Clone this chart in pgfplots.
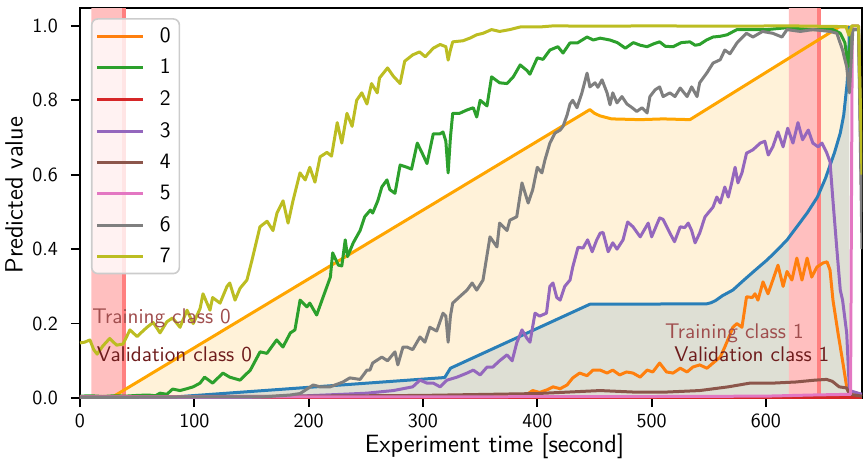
\documentclass[border=0pt]{standalone}
\usepackage{pgfplots}
\pgfplotsset{compat=1.18}
\definecolor{c0}{HTML}{FF7F0E}
\definecolor{c1}{HTML}{2CA02C}
\definecolor{c2}{HTML}{D62728}
\definecolor{c3}{HTML}{9467BD}
\definecolor{c4}{HTML}{8C564B}
\definecolor{c5}{HTML}{E377C2}
\definecolor{c6}{HTML}{7F7F7F}
\definecolor{c7}{HTML}{BCBD22}
\definecolor{ramp}{HTML}{FFA500}
\definecolor{bl}{HTML}{2A7FB8}
\definecolor{blt}{HTML}{1F77B4}
\definecolor{span}{HTML}{FFBFBF}
\definecolor{vl}{HTML}{FF8080}
\definecolor{trc}{RGB}{160,78,78}
\definecolor{vac}{RGB}{110,28,28}
\begin{document}
\begin{tikzpicture}
\useasboundingbox (-40pt,-32pt) rectangle (391.5pt,199pt);
\begin{axis}[
  scale only axis, width=391pt, height=195pt,
  xmin=0, xmax=684, ymin=0, ymax=1.048,
  axis line style={line width=0.9pt},
  tick align=outside, xtick pos=bottom, ytick pos=left,
  major tick length=4.5pt, tick style={black, line width=0.9pt},
  xtick={0,100,200,300,400,500,600},
  ytick={0,0.2,0.4,0.6,0.8,1.0},
  yticklabel style={/pgf/number format/.cd,fixed,fixed zerofill,precision=1,/tikz/.cd,xshift=-3pt},
  /pgf/number format/assume math mode=true,
  tick label style={font=\sffamily\fontsize{10}{12}\selectfont},
  xlabel={Experiment time [second]}, ylabel={Predicted value},
  label style={font=\sffamily\fontsize{12.5}{15}\selectfont},
  ylabel style={at={(axis description cs:-0.0844,0.52)}, anchor=center},
  xlabel style={at={(axis description cs:0.53,0)}, yshift=-24pt, anchor=center},
  legend style={at={(axis description cs:0.014,0.974)}, anchor=north west,
    draw=black!20, line width=0.8pt, rounded corners=3pt, fill=white, fill opacity=0.8, text opacity=1,
    font=\sffamily\fontsize{11}{13}\selectfont, inner xsep=2.1pt, inner ysep=1.9pt,
    nodes={inner sep=2.2pt}, row sep=2.5pt},
  legend cell align=left,
  legend image code/.code={\draw[#1, line width=1.5pt] (0pt,0pt) -- (23pt,0pt); \path (28.3pt,0pt);},
  every axis plot/.append style={line width=1.5pt, line join=round},
]
% fills
\addplot[draw=none, fill=ramp, fill opacity=0.15, forget plot] coordinates {
(27,0)(446,0.775)(450,0.765)(455,0.758)(465,0.75)(490,0.748)(510,0.75)(533.5,0.748)(664,0.997)(673,0.997)(673,0)} \closedcycle;
\addplot[draw=none, fill=blt, fill opacity=0.15, forget plot] coordinates {
(70,0)(192.5,0.027)(319,0.055)(322,0.07)(324,0.08)(446,0.252)(548,0.253)(552,0.256)(556,0.262)(562,0.275)(571,0.29)(580,0.315)(590,0.342)(601,0.371)(610,0.398)(618.5,0.425)(627,0.46)(636,0.497)(645,0.54)(652,0.59)(656,0.625)(660,0.66)(665,0.712)(668,0.76)(671,0.846)(672.5,0.93)(673,1.0)(673,0)} \closedcycle;
% spans
\addplot[draw=none, fill=span, forget plot] coordinates {(10,0)(10,1.048)(37.3,1.048)(37.3,0)} \closedcycle;
\addplot[draw=none, fill=span, forget plot] coordinates {(620,0)(620,1.048)(645,1.048)(645,0)} \closedcycle;
\addplot[vl, line width=2pt, forget plot] coordinates {(38.3,0)(38.3,1.048)};
\addplot[vl, line width=1.8pt, forget plot] coordinates {(646.4,0)(646.4,1.048)};
% ramp and blue
\addplot[ramp, forget plot] coordinates {
(27,0)(446,0.775)(450,0.765)(455,0.758)(465,0.75)(490,0.748)(510,0.75)(533.5,0.748)(664,0.997)(673,0.997)};
\addplot[bl, forget plot] coordinates {
(70,0)(192.5,0.027)(319,0.055)(322,0.07)(324,0.08)(446,0.252)(548,0.253)(552,0.256)(556,0.262)(562,0.275)(571,0.29)(580,0.315)(590,0.342)(601,0.371)(610,0.398)(618.5,0.425)(627,0.46)(636,0.497)(645,0.54)(652,0.59)(656,0.625)(660,0.66)(665,0.712)(668,0.76)(671,0.846)(672.5,0.93)(673,1.0)};
% class 0
\addplot[c0] coordinates {
(0,0.001)(100,0.001)(200,0.002)(300,0.003)(380,0.004)(390,0.008)(396,0.02)(402,0.015)(408.5,0.022)(413.7,0.03)(420,0.025)(426,0.035)(431,0.054)(437,0.067)(443.5,0.06)(448.7,0.075)(455,0.075)(461,0.067)(466,0.075)(472,0.062)(478,0.07)(483.7,0.067)(490,0.056)(496,0.075)(501,0.07)(507,0.094)(513,0.07)(518.7,0.067)(525,0.08)(531,0.07)(536,0.083)(542,0.089)(548.4,0.08)(553.7,0.094)(560,0.11)(564,0.137)(568.5,0.17)(571,0.19)(574.6,0.2)(579,0.19)(583,0.272)(588,0.27)(590.4,0.28)(593,0.263)(597.4,0.312)(601.8,0.28)(606,0.317)(610.5,0.357)(615,0.3)(618.4,0.34)(622.7,0.317)(627,0.376)(631.5,0.317)(636,0.376)(640,0.325)(644.6,0.352)(650,0.363)(653.4,0.366)(656,0.344)(658.6,0.263)(663,0.175)(667,0.10)(670.6,0.03)(673,0.01)(684,0.005)};
\addlegendentry{0}
% class 1
\addplot[c1] coordinates {
(0,0.005)(10,0.006)(20,0.004)(30,0.006)(40,0.005)(50,0.007)(60,0.008)(66,0.006)(70,0.013)(76,0.01)(81,0.024)(87.5,0.02)(93.5,0.025)(99,0.03)(105,0.04)(109,0.056)(116,0.04)(125,0.067)(131,0.056)(140,0.048)(149,0.075)(157.5,0.124)(163.5,0.12)(172,0.156)(177.5,0.137)(184,0.175)(188,0.183)(192.5,0.263)(198.5,0.245)(201,0.255)(207,0.223)(212.5,0.27)(219,0.325)(221,0.39)(226,0.357)(229,0.355)(232,0.425)(234,0.38)(239,0.417)(245,0.45)(249,0.487)(254,0.505)(256,0.497)(260.5,0.53)(264,0.567)(268.5,0.586)(271,0.56)(275.5,0.55)(280,0.626)(286,0.62)(290,0.615)(295,0.685)(299,0.66)(303.5,0.63)(309,0.71)(315,0.71)(317.5,0.715)(320,0.69)(322,0.605)(324,0.7)(326,0.765)(332,0.765)(338.5,0.774)(344,0.78)(347,0.755)(350,0.80)(356,0.785)(360,0.863)(367,0.847)(373.5,0.845)(379,0.863)(385,0.895)(391,0.88)(393.5,0.87)(400,0.914)(405,0.91)(411,0.935)(418,0.944)(422.5,0.927)(428.5,0.954)(435,0.954)(443.5,0.97)(449,0.962)(455,0.967)(463.5,0.962)(470,0.955)(477,0.94)(484,0.955)(490,0.948)(496,0.944)(502,0.952)(507,0.957)(512,0.945)(518.7,0.944)(526,0.955)(533.5,0.957)(538,0.948)(542,0.95)(548,0.962)(553.7,0.97)(560,0.972)(566,0.976)(574.6,0.99)(586,0.99)(601,0.99)(618,0.995)(640,0.99)(658.6,0.99)(665,0.98)(669,0.955)(672,0.89)(674,0.97)(676,0.99)(681,0.99)(684,0.5)};
\addlegendentry{1}
% class 2
\addplot[c2] coordinates {(0,0.001)(300,0.001)(600,0.001)(684,0.001)};
\addlegendentry{2}
% class 3
\addplot[c3] coordinates {
(0,0.001)(100,0.001)(150,0.002)(198.5,0.006)(230,0.01)(251,0.013)(274,0.02)(291,0.03)(297.4,0.048)(303.5,0.04)(309,0.04)(315,0.03)(321,0.048)(329.7,0.056)(338.5,0.067)(344,0.075)(350,0.062)(356,0.083)(361,0.083)(367,0.10)(373.5,0.116)(378,0.10)(382,0.148)(386.6,0.183)(391,0.16)(393.6,0.15)(398,0.228)(402,0.22)(408,0.228)(411,0.30)(413.7,0.309)(417,0.27)(420,0.263)(424,0.30)(428.6,0.317)(431,0.352)(435.6,0.405)(440,0.403)(444,0.425)(448,0.393)(452,0.425)(455,0.443)(457.5,0.445)(462,0.393)(466,0.417)(469.7,0.40)(475,0.425)(479,0.473)(483.7,0.46)(490,0.433)(497,0.47)(500,0.433)(507,0.484)(510,0.48)(516,0.443)(520,0.42)(525,0.46)(529,0.458)(532,0.47)(535,0.45)(538,0.417)(542,0.443)(546.7,0.487)(553.7,0.513)(557,0.54)(560,0.524)(564,0.567)(567,0.54)(570,0.578)(573,0.62)(575.5,0.578)(579,0.605)(583,0.658)(588.6,0.667)(595,0.685)(599,0.69)(602,0.653)(606,0.675)(610.5,0.715)(615,0.675)(619,0.725)(623.6,0.685)(628,0.74)(632,0.694)(637,0.72)(641,0.685)(645.6,0.675)(649,0.685)(653,0.66)(656,0.635)(658.6,0.53)(662,0.40)(665,0.29)(667,0.263)(670.6,0.175)(673,0.02)(684,0.01)};
\addlegendentry{3}
% class 4
\addplot[c4] coordinates {
(0,0.003)(100,0.004)(200,0.005)(300,0.007)(400,0.012)(455,0.02)(484,0.016)(513,0.016)(542,0.02)(567,0.03)(586,0.04)(606,0.04)(626,0.043)(643,0.048)(653,0.05)(658,0.045)(664,0.03)(670.6,0.027)(673,0.01)(684,0.005)};
\addlegendentry{4}
% class 5
\addplot[c5] coordinates {(0,0.003)(300,0.003)(500,0.004)(600,0.005)(640,0.008)(674,0.01)(675.5,1.0)(681,1.0)(684,0.5)};
\addlegendentry{5}
% class 6
\addplot[c6] coordinates {
(0,0.002)(50,0.002)(100,0.003)(160,0.003)(183.7,0.008)(192.5,0.012)(204,0.035)(210,0.03)(218.7,0.03)(230,0.043)(236,0.054)(245,0.05)(251,0.075)(253.6,0.075)(256,0.094)(264,0.11)(269,0.1)(275.5,0.124)(278,0.089)(282.5,0.137)(286,0.137)(291,0.13)(297.4,0.164)(301.7,0.15)(306,0.19)(312,0.18)(317.5,0.228)(320,0.22)(322,0.15)(324,0.22)(326,0.255)(332,0.272)(338.5,0.29)(343,0.309)(347,0.29)(352.5,0.317)(358.6,0.433)(364.7,0.406)(367,0.47)(373.5,0.45)(376,0.478)(382,0.487)(386.6,0.578)(392,0.524)(396,0.56)(400,0.62)(404,0.605)(406.7,0.64)(411,0.685)(415.5,0.712)(420,0.72)(422.5,0.73)(426,0.76)(428.6,0.79)(431,0.80)(434.7,0.78)(439,0.82)(443.5,0.873)(446,0.836)(450.5,0.847)(453,0.835)(456.6,0.855)(461,0.82)(463.6,0.788)(466,0.82)(469.7,0.793)(474,0.81)(478.4,0.79)(483,0.78)(487,0.77)(491.6,0.78)(496,0.766)(498.5,0.81)(503,0.828)(507,0.836)(510,0.81)(516,0.82)(520.4,0.81)(525,0.833)(531,0.81)(535,0.836)(539.7,0.81)(542,0.847)(548.4,0.874)(553.7,0.90)(560,0.909)(564,0.935)(568.5,0.925)(574.6,0.954)(577,0.962)(583,0.98)(588.6,0.97)(597,0.985)(606,0.98)(614,0.97)(618.4,0.99)(630,0.985)(641,0.99)(656,0.985)(662,0.98)(667,0.935)(670.6,0.89)(673,0.82)(675,0.935)(676,0.99)(681,0.99)(684,0.4)};
\addlegendentry{6}
% class 7
\addplot[c7] coordinates {
(0,0.148)(4,0.15)(8.7,0.156)(12,0.13)(15,0.118)(20,0.14)(26,0.16)(32,0.142)(37.6,0.145)(43.7,0.183)(50,0.165)(55,0.18)(58.6,0.19)(64,0.203)(70,0.175)(76,0.205)(81,0.215)(87.5,0.19)(93.6,0.236)(99,0.2)(105,0.24)(107.6,0.28)(113.7,0.236)(116,0.27)(122.5,0.255)(128.6,0.3)(131,0.309)(135.6,0.263)(140,0.295)(146,0.317)(150.4,0.37)(157.4,0.46)(163.6,0.475)(168.8,0.45)(172.3,0.497)(177.6,0.53)(182,0.47)(186.3,0.53)(192.4,0.605)(197,0.586)(201,0.62)(205.5,0.58)(210,0.648)(216,0.66)(220,0.65)(225,0.74)(229,0.685)(233.5,0.765)(238,0.73)(242,0.80)(246.5,0.82)(251,0.79)(255,0.845)(260,0.82)(262,0.86)(269,0.887)(274,0.865)(280,0.845)(284,0.905)(291,0.922)(297,0.93)(302,0.917)(309,0.94)(315,0.95)(320,0.944)(322,0.908)(324,0.935)(326,0.957)(335,0.96)(341,0.967)(347,0.976)(352.5,0.98)(360,0.99)(367,0.985)(376,0.99)(385,0.997)(402,0.997)(414,1.0)(450,0.999)(500,1.0)(560,0.999)(620,1.0)(670,0.998)(672.5,0.975)(675,1.0)(681,1.0)(684,0.6)};
\addlegendentry{7}
% annotations
\node[anchor=base west, inner sep=0pt, text=trc, font=\sffamily\fontsize{10.6}{12}\selectfont] at (axis cs:10.5,0.199) {Training class 0};
\node[anchor=base west, inner sep=0pt, text=vac, font=\sffamily\fontsize{10.6}{12}\selectfont] at (axis cs:14.5,0.098) {Validation class 0};
\node[anchor=base west, inner sep=0pt, text=trc, font=\sffamily\fontsize{10.6}{12}\selectfont] at (axis cs:511.5,0.159) {Training class 1};
\node[anchor=base west, inner sep=0pt, text=vac, font=\sffamily\fontsize{10.6}{12}\selectfont] at (axis cs:519.5,0.098) {Validation class 1};
\end{axis}
\end{tikzpicture}
\end{document}
